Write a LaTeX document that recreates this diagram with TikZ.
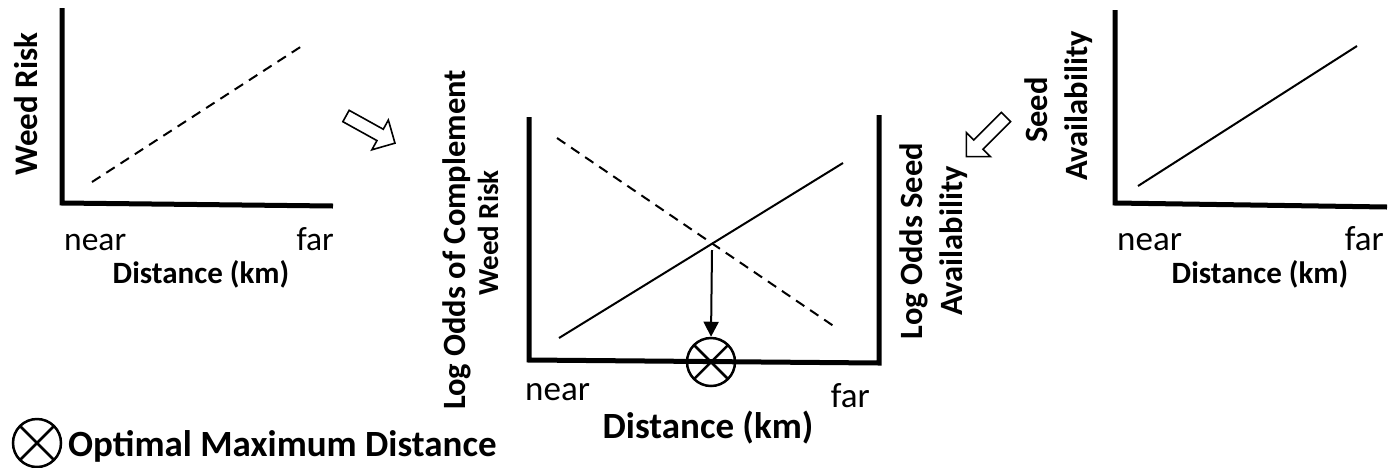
\documentclass[tikz,border=0pt]{standalone}
\usepackage{fontspec}
\setmainfont{Carlito}
\usetikzlibrary{arrows.meta}
\begin{document}
\begin{tikzpicture}[x=1pt,y=-1pt,
  axis/.style={line width=5pt, line join=miter},
  curve/.style={line width=2pt},
  dashcurve/.style={line width=2pt, dash pattern=on 10pt off 7pt},
  lbl/.style={font=\fontsize{32.5}{36}\selectfont\bfseries, inner sep=0pt},
  distlbl/.style={font=\fontsize{31}{36}\selectfont\bfseries, inner sep=0pt},
  biglbl/.style={font=\fontsize{37}{42}\selectfont\bfseries, inner sep=0pt},
  ticklbl/.style={font=\fontsize{35}{38}\selectfont, inner sep=0pt},
  blockarrow/.style={line width=1.6pt, fill=white, line join=miter},
  optmark/.style={circle, draw, line width=2.5pt, minimum size=48pt, inner sep=0pt,
    path picture={\draw[line width=2.5pt] (path picture bounding box.north west) -- (path picture bounding box.south east)
                   (path picture bounding box.north east) -- (path picture bounding box.south west);}}
]
\useasboundingbox (0,0) rectangle (1400,467);

% ---------- left plot ----------
\draw[axis] (62,8) -- (62,203) -- (333,206);
\coordinate (l1) at (92,182);
\coordinate (l2) at (305,44);
\draw[dashcurve] (l1) -- (l2);
\node[lbl, font=\fontsize{33}{36}\selectfont\bfseries, rotate=90, anchor=base] (wr) at (37,104) {Weed Risk};
\node[ticklbl, font=\fontsize{33.5}{38}\selectfont, anchor=base west] (n1) at (64,250) {near};
\node[ticklbl, font=\fontsize{33.5}{38}\selectfont, anchor=base east] (f1) at (334,250) {far};
\node[distlbl, anchor=base] (d1) at (201,283) {Distance (km)};

% arrow 1
\begin{scope}[shift={(346,116)}, rotate=-29]
\draw[blockarrow] (0,-6.5) -- (39,-6.5) -- (39,-17) -- (56,0) -- (39,17) -- (39,6.5) -- (0,6.5) -- cycle;
\end{scope}

% ---------- middle plot ----------
\draw[axis] (529,117) -- (529,360) -- (879,363) -- (879,115);
\coordinate (m1) at (557,138);
\coordinate (m2) at (838,329);
\coordinate (m3) at (559,338);
\coordinate (m4) at (843,163);
\draw[dashcurve] (m1) -- (m2);
\draw[curve] (m3) -- (m4);
\coordinate (cross) at (712,250);
\node[optmark] (opt) at (711,362) {};
\draw[line width=2pt, -{Triangle[width=15pt,length=15pt]}] (cross) -- (opt.north);
\node[lbl, rotate=90, anchor=base] (lo1) at (465,240) {Log Odds of Complement};
\node[lbl, font=\fontsize{29}{36}\selectfont\bfseries, rotate=90, anchor=base] (lo2) at (498,233) {Weed Risk};
\node[lbl, rotate=90, anchor=base] (ro1) at (922,241) {Log Odds Seed};
\node[lbl, rotate=90, anchor=base] (ro2) at (962,241) {Availability};
\node[ticklbl, anchor=base west] (n2) at (525,400) {near};
\node[ticklbl, anchor=base east] (f2) at (870,407) {far};
\node[biglbl, anchor=base] (d2) at (708,438) {Distance (km)};

% arrow 2
\begin{scope}[shift={(1006,117)}, rotate=-135]
\draw[blockarrow] (0,-6.5) -- (39,-6.5) -- (39,-17) -- (56,0) -- (39,17) -- (39,6.5) -- (0,6.5) -- cycle;
\end{scope}

% ---------- right plot ----------
\draw[axis] (1115,10) -- (1115,203) -- (1387,207);
\coordinate (r1) at (1138,186);
\coordinate (r2) at (1357,46);
\draw[curve] (r1) -- (r2);
\node[lbl, rotate=90, anchor=base] (sa1) at (1047,110) {Seed};
\node[lbl, rotate=90, anchor=base] (sa2) at (1087,106) {Availability};
\node[ticklbl, anchor=base west] (n3) at (1117,250) {near};
\node[ticklbl, anchor=base east] (f3) at (1384,250) {far};
\node[distlbl, anchor=base] (d3) at (1260,283) {Distance (km)};

% ---------- legend ----------
\node[optmark] (leg) at (37,443) {};
\node[biglbl, anchor=base west] (legtxt) at (68,456) {Optimal Maximum Distance};
\end{tikzpicture}
\end{document}
